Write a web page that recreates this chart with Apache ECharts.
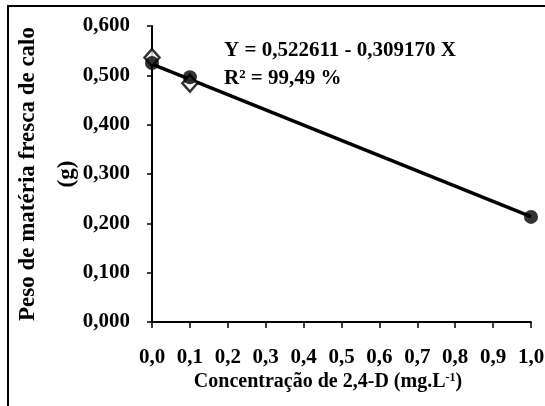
<!DOCTYPE html>
<html>
<head>
<meta charset="utf-8">
<script src="https://cdn.jsdelivr.net/npm/echarts@6/dist/echarts.min.js"></script>
<style>html,body{margin:0;padding:0;background:#fff}#c{width:545px;height:406px}</style>
</head>
<body>
<div id="c"></div>
<script>
// Data
var xTicks = ['0,0','0,1','0,2','0,3','0,4','0,5','0,6','0,7','0,8','0,9','1,0'];
var yTicks = ['0,000','0,100','0,200','0,300','0,400','0,500','0,600'];
var diamondX = [0.0, 0.1];
var diamondY = [0.536, 0.484];
var circleX = [0.0, 0.1, 1.0];
var circleY = [0.525, 0.496, 0.213];
var fitX = [0.0, 1.0];
var fitY = [0.5226, 0.2134];
var equationText = 'Y = 0,522611 - 0,309170 X';
var r2Text = 'R² = 99,49 %';
var xTitle = 'Concentração de 2,4-D (mg.L';
var yTitle = 'Peso de matéria fresca de calo\n(g)';

function pairs(xs, ys){ return xs.map(function(x,i){return [x, ys[i]];}); }

var FONT = '"Liberation Serif", "Times New Roman", serif';
var chart = echarts.init(document.getElementById('c'), null, {renderer:'canvas'});
chart.setOption({
  backgroundColor:'#fff',
  animation:false,
  textStyle:{fontFamily:FONT, color:'#000'},
  grid:{left:152, right:14, top:26, bottom:84, containLabel:false, outerBoundsMode:'none'},
  xAxis:{
    type:'value', min:0, max:1, interval:0.1,
    axisLine:{show:true, lineStyle:{color:'#000', width:2}},
    axisTick:{show:true, inside:false, length:6, lineStyle:{color:'#000', width:1.5}},
    splitLine:{show:false},
    axisLabel:{margin:25, color:'#000', fontFamily:FONT, fontWeight:'bold', fontSize:21,
      formatter:function(v){ return xTicks[Math.round(v*10)]; }},
    name: '{t|' + xTitle + '}{s|-1}{t|)}',
    nameLocation:'middle', nameGap:50, nameMoveOverlap:false,
    nameTextStyle:{padding:[0,27,0,0],
      rich:{
        t:{fontFamily:FONT, fontWeight:'bold', fontSize:20, color:'#000'},
        s:{fontFamily:FONT, fontWeight:'bold', fontSize:12, color:'#000', verticalAlign:'top', padding:[0,0,8,0]}
      }}
  },
  yAxis:{
    type:'value', min:0, max:0.6, interval:0.1,
    axisLine:{show:true, lineStyle:{color:'#000', width:2}},
    axisTick:{show:true, length:5, lineStyle:{color:'#000', width:1.5}},
    splitLine:{show:false},
    axisLabel:{margin:22, color:'#000', fontFamily:FONT, fontWeight:'bold', fontSize:21,
      formatter:function(v){ return yTicks[Math.round(v*10)]; }},
    name:yTitle, nameLocation:'middle', nameRotate:90, nameGap:65, nameMoveOverlap:false,
    nameTextStyle:{fontFamily:FONT, fontWeight:'bold', fontSize:23, color:'#000', lineHeight:39}
  },
  series:[
    {type:'line', data:pairs(fitX, fitY), symbol:'none', lineStyle:{color:'#000', width:3.5}, z:2},
    {type:'scatter', data:pairs(diamondX, diamondY), symbol:'diamond', symbolSize:[15,17],
      itemStyle:{color:'#fff', borderColor:'#000', borderWidth:2.5}, z:3},
    {type:'scatter', data:pairs(circleX, circleY), symbol:'circle', symbolSize:14,
      itemStyle:{color:'#000'}, z:4}
  ],
  graphic:[
    {type:'rect', shape:{x:8, y:6, width:560, height:420}, style:{fill:null, stroke:'#000', lineWidth:2}, silent:true, z:10},
    {type:'text', left:224, top:40, style:{text:equationText, font:'bold 21px ' + FONT, fill:'#000'}, z:10},
    {type:'text', left:224, top:68, style:{text:r2Text, font:'bold 21px ' + FONT, fill:'#000'}, z:10}
  ]
});
</script>
</body>
</html>
